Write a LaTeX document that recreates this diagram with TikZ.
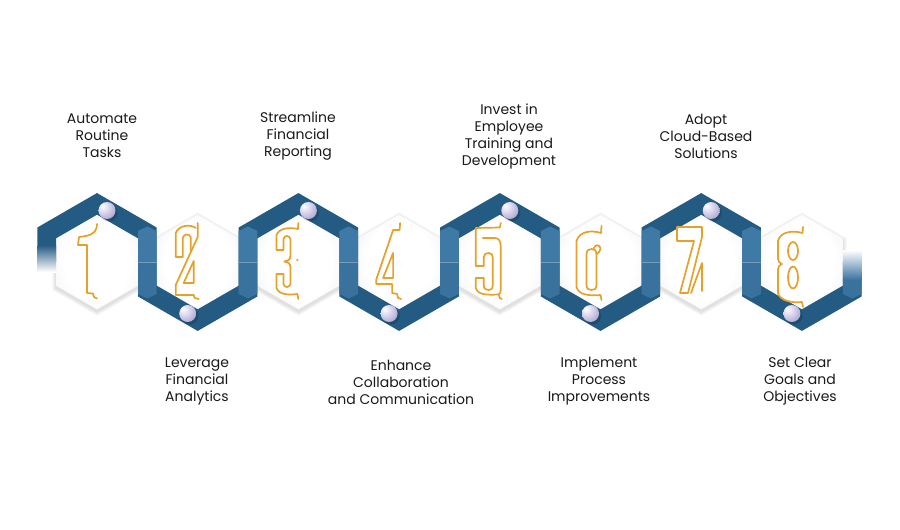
\documentclass[tikz,border=0pt]{standalone}
\usepackage{fontspec}
\setmainfont{Poppins}
\usetikzlibrary{calc}
\definecolor{band}{HTML}{245B82}
\definecolor{barT}{HTML}{3F7AA6}
\definecolor{barB}{HTML}{3A729E}
\definecolor{gold}{HTML}{E4A22C}
\definecolor{hexO}{HTML}{D6D6E2}
\definecolor{hexM}{HTML}{EDEDF3}
\definecolor{lavL}{HTML}{E6E2F4}
\definecolor{lavD}{HTML}{9890C4}
\definecolor{txt}{HTML}{1A1A1A}
\pgfdeclareradialshading{dotshade}{\pgfpoint{-14bp}{14bp}}{color(0bp)=(white); color(12bp)=(lavL); color(45bp)=(lavD); color(80bp)=(lavD)}
\pgfdeclareradialshading{hexshade}{\pgfpoint{0bp}{0bp}}{color(0bp)=(white); color(20bp)=(white); color(40bp)=(hexM); color(55bp)=(hexO); color(80bp)=(hexO)}
\def\hIn{41}
\def\hOut{59.7}
\def\rIn{47.34}
\def\rOut{68.94}
\def\cy{262}
\begin{document}
\begin{tikzpicture}[x=1pt,y=-1pt,
  lbl/.style={font=\fontsize{14}{17}\selectfont, text=txt, align=center, inner sep=0pt},
  dig/.style={draw=gold, line width=1.7pt, line join=round, line cap=round},
  dotsh/.style={fill=black, opacity=0.16},
  hexsh/.style={fill=black, opacity=0.04}]
\useasboundingbox (0,0) rectangle (900,530);
\fill[white] (0,0) rectangle (900,530);

% light hexagons with soft shadows
\foreach \i in {1,...,8}{
  \pgfmathsetmacro{\cx}{97+100.7*(\i-1)}
  \foreach \s in {1.03,1.06,1.09}{
    \fill[hexsh] ($(\cx,\cy+2)+\s*(0,-\rIn)$) -- ($(\cx,\cy+2)+\s*(\hIn,-\rIn/2)$) -- ($(\cx,\cy+2)+\s*(\hIn,\rIn/2)$) -- ($(\cx,\cy+2)+\s*(0,\rIn)$) -- ($(\cx,\cy+2)+\s*(-\hIn,\rIn/2)$) -- ($(\cx,\cy+2)+\s*(-\hIn,-\rIn/2)$) -- cycle;
  }
  \shade[shading=hexshade] (\cx,\cy-\rIn) -- (\cx+\hIn,\cy-\rIn/2) -- (\cx+\hIn,\cy+\rIn/2) -- (\cx,\cy+\rIn) -- (\cx-\hIn,\cy+\rIn/2) -- (\cx-\hIn,\cy-\rIn/2) -- cycle;
}

% dark bands
\foreach \i in {1,3,5,7}{
  \pgfmathsetmacro{\cx}{97+100.7*(\i-1)}
  \fill[band] (\cx-\hOut,\cy) -- (\cx-\hOut,\cy-\rOut/2) -- (\cx,\cy-\rOut) -- (\cx+\hOut,\cy-\rOut/2) -- (\cx+\hOut,\cy) -- (\cx+\hIn,\cy) -- (\cx+\hIn,\cy-\rIn/2) -- (\cx,\cy-\rIn) -- (\cx-\hIn,\cy-\rIn/2) -- (\cx-\hIn,\cy) -- cycle;
}
\foreach \i in {2,4,6,8}{
  \pgfmathsetmacro{\cx}{97+100.7*(\i-1)}
  \fill[band] (\cx-\hOut,\cy) -- (\cx-\hOut,\cy+\rOut/2) -- (\cx,\cy+\rOut) -- (\cx+\hOut,\cy+\rOut/2) -- (\cx+\hOut,\cy) -- (\cx+\hIn,\cy) -- (\cx+\hIn,\cy+\rIn/2) -- (\cx,\cy+\rIn) -- (\cx-\hIn,\cy+\rIn/2) -- (\cx-\hIn,\cy) -- cycle;
}

% vertical connector bars
\foreach \i in {1,...,7}{
  \pgfmathsetmacro{\xa}{97+100.7*(\i-1)+\hIn}
  \pgfmathsetmacro{\xb}{97+100.7*(\i-1)+\hOut}
  \pgfmathsetmacro{\xm}{(\xa+\xb)/2}
  \fill[barT] (\xa,\cy) -- (\xa,231) -- (\xm,226.5) -- (\xb,231) -- (\xb,\cy) -- cycle;
  \fill[barB] (\xa,\cy) -- (\xa,294) -- (\xm,298.5) -- (\xb,294) -- (\xb,\cy) -- cycle;
  \draw[white, opacity=0.3, line width=0.6pt] (\xa,\cy) -- (\xb,\cy);
}

% left fading end
\fill[white] (37,245) rectangle (56,264);
\shade[top color=band, bottom color=white] (37.3,245) rectangle (56,272);
% right fading end
\pgfmathsetmacro{\ra}{97+100.7*7+\hIn}
\pgfmathsetmacro{\rb}{97+100.7*7+\hOut}
\pgfmathsetmacro{\rm}{(\ra+\rb)/2}
\fill[barB] (\ra,279) -- (\rb,279) -- (\rb,294) -- (\rm,298.5) -- (\ra,294) -- cycle;
\shade[top color=white, bottom color=barB] (\ra,250) rectangle (\rb,280);

% dots
\foreach \i in {1,3,5,7}{
  \pgfmathsetmacro{\dx}{97+100.7*(\i-1)+10}
  \fill[dotsh] (\dx+2,213) circle (8.6);
  \shade[shading=dotshade] (\dx,210.5) circle (8.5);
}
\foreach \i in {2,4,6,8}{
  \pgfmathsetmacro{\dx}{97+100.7*(\i-1)-10}
  \fill[dotsh] (\dx+2,316) circle (8.6);
  \shade[shading=dotshade] (\dx,313.5) circle (8.5);
}

% digit 1
\begin{scope}[shift={(77,223)}]
\draw[dig] (20,1) -- (19.5,5) .. controls (18,11) and (12,13) .. (2,14) -- (1,22) -- (10,22) -- (10,70) -- (16,70.5) -- (17,74) -- (20,75.5);
\end{scope}
% digit 2
\begin{scope}[shift={(172.7,223)}]
\draw[dig] (25,0) -- (25,14) -- (3,62) -- (3,72) -- (21,72) -- (22,75) -- (26,76);
\draw[dig] (23,5) .. controls (18,1) and (6,2) .. (3,10) -- (3,34) -- (10,34) -- (10,15) .. controls (11,11) and (16,10) .. (18,14) -- (18,28);
\draw[dig] (11,60) -- (21,38) -- (21,60) -- cycle;
\end{scope}
% digit 3
\begin{scope}[shift={(273.4,223)}]
\draw[dig] (25,0) -- (24.5,6) .. controls (16,4) and (6,5) .. (3,12) -- (3,27) -- (10,27) -- (10,16) .. controls (11,12) and (16,12) .. (17,16) -- (17,33) .. controls (17,37) and (14,38) .. (11,38.5) .. controls (14,39) and (17,40) .. (17,44) -- (17,61) .. controls (16,65) and (11,65) .. (10,61) -- (10,51) -- (3,51) -- (3,65) .. controls (6,72) and (15,72) .. (24,71) -- (25,76);
\fill[gold] (24,37) circle (1.3);
\end{scope}
% digit 4
\begin{scope}[shift={(374.1,223)}]
\draw[dig] (26,0) -- (25.5,7) -- (19,7) -- (2,57) -- (2,61) -- (18,61) -- (18,70) -- (23,71) -- (24,75) -- (27,76);
\draw[dig] (9,55) -- (19,30) -- (19,55) -- cycle;
\end{scope}
% digit 5
\begin{scope}[shift={(474.8,223)}]
\draw[dig] (26,0) -- (25,4.5) -- (1,5) -- (1,43) -- (9,43) -- (9,34) .. controls (9,31) and (11,30) .. (14,30) .. controls (17,30) and (18,32) .. (18,35) -- (18,62) .. controls (18,66) and (16,67) .. (14,67) .. controls (11,67) and (9,66) .. (9,62) -- (9,55) -- (1,55) -- (1,65) .. controls (3,72) and (12,72) .. (24,71.5) -- (25,75) -- (27,76);
\draw[dig] (8,15) -- (20,15) .. controls (24,15) and (26,18) .. (26,24) -- (26,64) .. controls (26,69) and (25.5,71) .. (24,71.5);
\end{scope}
% digit 6
\begin{scope}[shift={(575.5,223)}]
\draw[dig] (26,3) -- (25.5,10) .. controls (16,7) and (4,8) .. (1,18) -- (1,64) .. controls (3,72) and (14,73) .. (25,72) -- (26,77);
\draw[dig] (11,32) .. controls (11,27) and (13,26) .. (16,26) .. controls (19,26) and (21,27) .. (21,32) -- (21,62) .. controls (21,66) and (19,67) .. (16,67) .. controls (13,67) and (11,66) .. (11,62) -- cycle;
\draw[dig] (18,26) .. controls (19,21) and (25,21) .. (25,26) .. controls (25,29) and (22,30) .. (21,31);
\end{scope}
% digit 7
\begin{scope}[shift={(676,223)}]
\draw[dig] (1,4) -- (26,4) -- (26,14) -- (12,70) -- (4,70) -- (18,18) -- (1,18) -- cycle;
\draw[dig] (15,70) -- (26,40) -- (26,68);
\end{scope}
% digit 8
\begin{scope}[shift={(777,223)}]
\draw[dig] (26,4) -- (25.5,10) .. controls (15,7) and (3,9) .. (1,18) -- (1,36) .. controls (1,39) and (3,40) .. (5,41) .. controls (3,42) and (1,43) .. (1,46) -- (1,70) .. controls (3,78) and (15,80) .. (25,79) -- (26,84);
\draw[dig] (16,28) ellipse (5 and 9);
\draw[dig] (16,54.5) ellipse (5 and 11);
\end{scope}

% labels
\node[lbl] (t1) at (102,136) {Automate\\Routine\\Tasks};
\node[lbl] (t3) at (298,136) {Streamline\\Financial\\Reporting};
\node[lbl] (t5) at (509,136) {Invest in\\Employee\\Training and\\Development};
\node[lbl] (t7) at (706,136) {Adopt\\Cloud-Based\\Solutions};
\node[lbl] (t2) at (197,381) {Leverage\\Financial\\Analytics};
\node[lbl] (t4) at (401,382) {Enhance\\Collaboration\\and Communication};
\node[lbl] (t6) at (599,381) {Implement\\Process\\Improvements};
\node[lbl] (t8) at (800,381) {Set Clear\\Goals and\\Objectives};
\end{tikzpicture}
\end{document}
